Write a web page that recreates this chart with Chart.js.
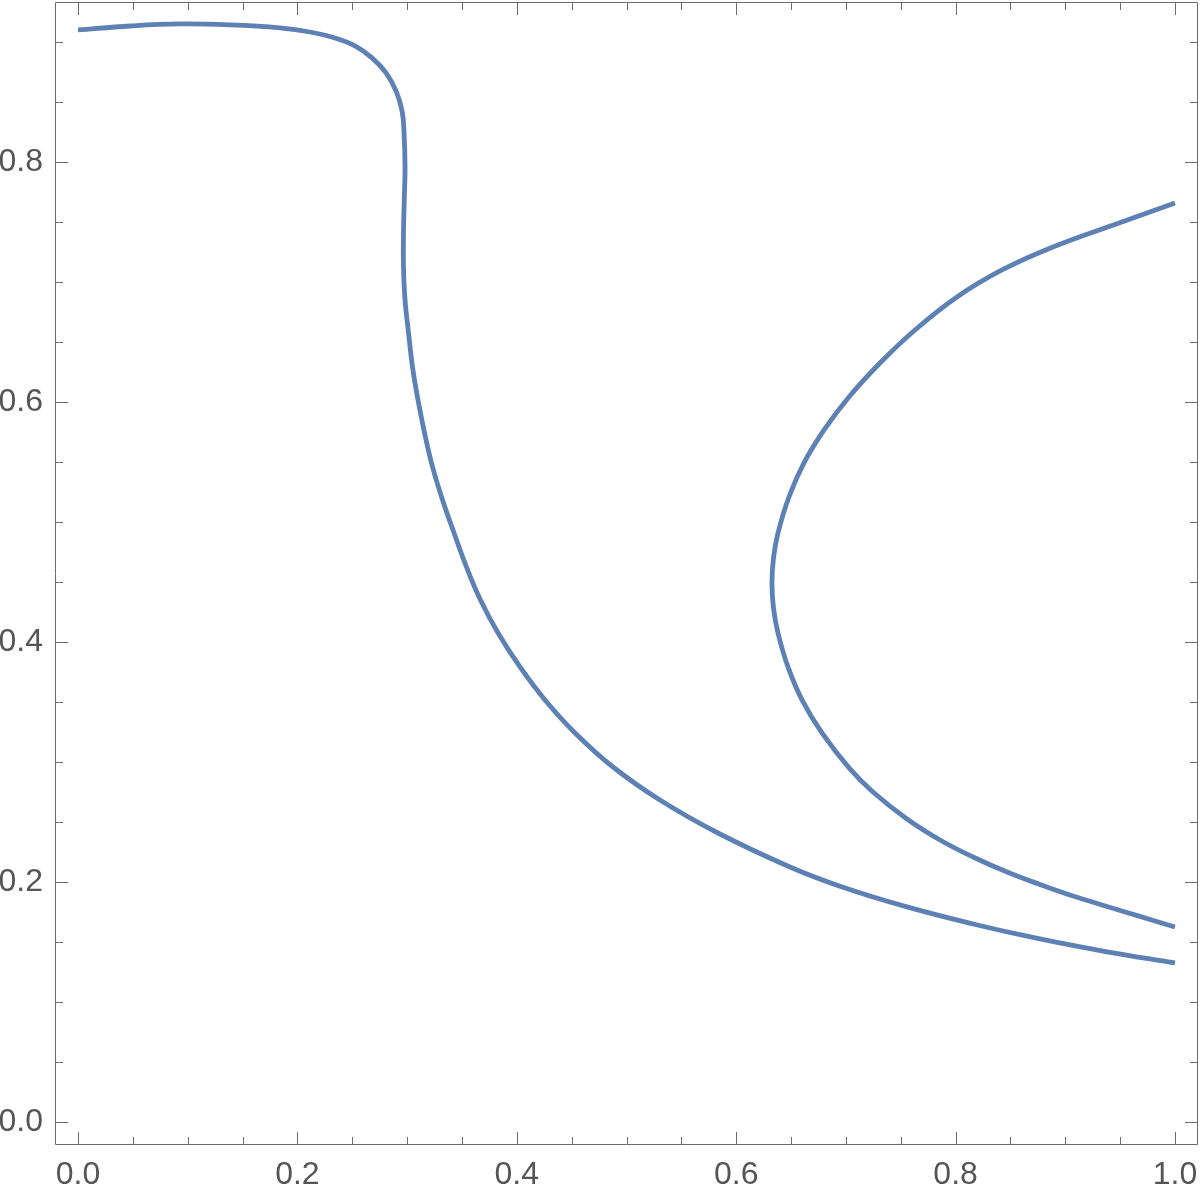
<!DOCTYPE html>
<html>
<head>
<meta charset="utf-8">
<script src="https://cdn.jsdelivr.net/npm/chart.js@4/dist/chart.umd.min.js"></script>
<style>
  body { margin: 0; background: #fff; }
</style>
</head>
<body>
<canvas id="myChart" width="1200" height="1193"></canvas>
<script>
// left branch
const curve1X = [0, 0.0474, 0.093, 0.1386, 0.1841, 0.2115, 0.2343, 0.2525, 0.268, 0.2808, 0.2899, 0.2954, 0.2972, 0.2981, 0.2974, 0.2967, 0.2967, 0.2981, 0.3013, 0.3049, 0.3099, 0.3159, 0.3232, 0.3323, 0.3428, 0.3541, 0.3669, 0.3829, 0.4029, 0.4257, 0.4531, 0.4877, 0.5305, 0.5834, 0.649, 0.6946, 0.7557, 0.8159, 0.8769, 0.938, 1.0];
const curve1Y = [0.910, 0.9133, 0.915, 0.9142, 0.9117, 0.9083, 0.9033, 0.8967, 0.8867, 0.8742, 0.8592, 0.8425, 0.8242, 0.7958, 0.7683, 0.7408, 0.7125, 0.685, 0.6575, 0.6292, 0.6017, 0.5742, 0.5458, 0.5183, 0.4908, 0.4625, 0.435, 0.4075, 0.3792, 0.3517, 0.3242, 0.2958, 0.2683, 0.2408, 0.2125, 0.1965, 0.1792, 0.165, 0.1525, 0.1418, 0.1325];

// right branch (the C shape), from top end to bottom end
const curve2X = [1.0, 0.949, 0.8888, 0.8423, 0.8013, 0.763, 0.7311, 0.7028, 0.6801, 0.6618, 0.6481, 0.6381, 0.634, 0.6326, 0.634, 0.6381, 0.6472, 0.66, 0.6782, 0.7037, 0.7247, 0.7557, 0.7858, 0.8159, 0.8469, 0.8769, 0.907, 0.938, 0.9681, 1.0];
const curve2Y = [0.7658, 0.7492, 0.7292, 0.71, 0.6875, 0.66, 0.6325, 0.6042, 0.5767, 0.5492, 0.5208, 0.4908, 0.47, 0.4492, 0.4283, 0.4075, 0.3792, 0.3517, 0.3242, 0.2942, 0.275, 0.2525, 0.235, 0.2208, 0.2083, 0.1979, 0.1883, 0.1796, 0.1713, 0.1625];

const xTicks = [0, 0.2, 0.4, 0.6, 0.8, 1.0];
const yTicks = [0, 0.2, 0.4, 0.6, 0.8];
const minorStep = 0.05;

const lineColor = "#5e81b5";
const frameColor = "#6a6a6a";

const toPoints = (xs, ys) => xs.map((x, i) => ({ x: x, y: ys[i] }));

// Mathematica-like frame: box plus inward ticks on all four sides
const frameTicks = {
  id: "frameTicks",
  afterDraw(chart) {
    const { ctx, chartArea: a, scales } = chart;
    const xs = scales.x, ys = scales.y;
    ctx.save();
    ctx.strokeStyle = frameColor;
    ctx.lineWidth = 1;
    ctx.beginPath();
    ctx.rect(Math.round(a.left) + 0.5, Math.round(a.top) + 0.5, Math.round(a.right - a.left) - 1, Math.round(a.bottom - a.top) - 1);
    ctx.stroke();

    const isMajor = (v, list) => list.some((t) => Math.abs(t - v) < 1e-6);
    ctx.beginPath();
    for (let v = 0; v <= 1.0001; v += minorStep) {
      const len = isMajor(v, xTicks) ? 13 : 8;
      const px = Math.round(xs.getPixelForValue(v)) + 0.5;
      ctx.moveTo(px, a.bottom);
      ctx.lineTo(px, a.bottom - len);
      ctx.moveTo(px, a.top);
      ctx.lineTo(px, a.top + len);
    }
    for (let v = 0; v <= 0.9001; v += minorStep) {
      const len = isMajor(v, yTicks) ? 13 : 8;
      const py = Math.round(ys.getPixelForValue(v)) + 0.5;
      ctx.moveTo(a.left, py);
      ctx.lineTo(a.left + len, py);
      ctx.moveTo(a.right, py);
      ctx.lineTo(a.right - len, py);
    }
    ctx.stroke();
    ctx.restore();
  },
};

const labelFont = { family: "'Liberation Sans', Arial, sans-serif", size: 32 };

// no extra room for labels that hang over the plot edges
const noOverhang = (scale) => {
  scale.paddingLeft = 0;
  scale.paddingRight = 0;
  scale.paddingTop = 0;
  scale.paddingBottom = 0;
};

new Chart(document.getElementById("myChart").getContext("2d"), {
  type: "scatter",
  data: {
    datasets: [
      {
        data: toPoints(curve1X, curve1Y),
        showLine: true,
        borderColor: lineColor,
        borderWidth: 4.8,
        pointRadius: 0,
        tension: 0.4,
        fill: false,
      },
      {
        data: toPoints(curve2X, curve2Y),
        showLine: true,
        borderColor: lineColor,
        borderWidth: 4.8,
        pointRadius: 0,
        tension: 0.4,
        fill: false,
      },
    ],
  },
  options: {
    responsive: false,
    animation: false,
    layout: { padding: { top: 2, right: 2, left: 0, bottom: 0 } },
    plugins: { legend: { display: false }, tooltip: { enabled: false } },
    scales: {
      x: {
        type: "linear",
        min: -0.021,
        max: 1.021,
        grid: { display: false, drawTicks: false, tickLength: 0 },
        border: { display: false },
        afterBuildTicks: (scale) => {
          scale.ticks = xTicks.map((v) => ({ value: v }));
        },
        afterFit: (scale) => {
          scale.height = 48;
          noOverhang(scale);
        },
        ticks: {
          font: labelFont,
          color: "#555",
          padding: 11,
          maxRotation: 0,
          callback: (v) => Number(v).toFixed(1),
        },
      },
      y: {
        type: "linear",
        min: -0.0192,
        max: 0.9333,
        grid: { display: false, drawTicks: false, tickLength: 0 },
        border: { display: false },
        afterBuildTicks: (scale) => {
          scale.ticks = yTicks.map((v) => ({ value: v }));
        },
        afterFit: (scale) => {
          scale.width = 55;
          noOverhang(scale);
        },
        ticks: {
          font: labelFont,
          color: "#555",
          padding: 12,
          callback: (v) => Number(v).toFixed(1),
        },
      },
    },
  },
  plugins: [frameTicks],
});
</script>
</body>
</html>
